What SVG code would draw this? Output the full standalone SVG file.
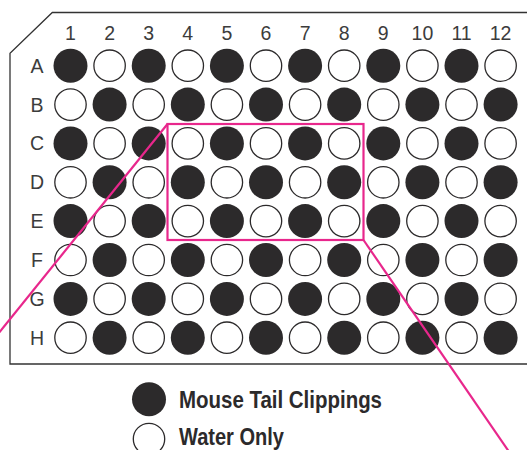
<svg xmlns="http://www.w3.org/2000/svg" xmlns:xlink="http://www.w3.org/1999/xlink" width="527" height="450" viewBox="0 0 527 450">
<style>
.plate{fill:none;stroke:#333;stroke-width:1.3}
.f{fill:#2c2a2b}
.o{fill:#fff;stroke:#2c2a2b;stroke-width:1.3}
.lbl{font-family:"Liberation Sans",Arial,sans-serif;font-size:19.5px;fill:#3c3c3c;text-anchor:middle}
.leg{font-family:"Liberation Sans",Arial,sans-serif;font-size:24px;font-weight:bold;fill:#2c2a2b}
.mg{fill:none;stroke:#e8278c;stroke-width:2.2}
</style>
<defs>
<circle id="fw" r="17" class="f"/>
<circle id="ow" r="15.7" class="o"/>
</defs>
<rect width="527" height="450" fill="#fff"/>
<g id="plate">
<path class="plate" d="M527,12.5 H52.3 L10,53.3 V364 H527"/>
</g>
<g id="col-labels" class="lbl">
<text x="70.5" y="40">1</text><text x="109.6" y="40">2</text><text x="148.7" y="40">3</text><text x="187.8" y="40">4</text><text x="226.9" y="40">5</text><text x="266" y="40">6</text><text x="305.1" y="40">7</text><text x="344.2" y="40">8</text><text x="383.3" y="40">9</text><text x="422.4" y="40">10</text><text x="461.5" y="40">11</text><text x="500.6" y="40">12</text>
</g>
<g id="row-labels" class="lbl">
<text x="37" y="72.7">A</text><text x="37" y="111.6">B</text><text x="37" y="150.4">C</text><text x="37" y="189.3">D</text><text x="37" y="228.1">E</text><text x="37" y="267">F</text><text x="37" y="305.9">G</text><text x="37" y="344.7">H</text>
</g>
<g id="wells">
<g id="row-A" transform="translate(0,65.7)"><use href="#fw" x="70.5"/><use href="#ow" x="109.6"/><use href="#fw" x="148.7"/><use href="#ow" x="187.8"/><use href="#fw" x="226.9"/><use href="#ow" x="266"/><use href="#fw" x="305.1"/><use href="#ow" x="344.2"/><use href="#fw" x="383.3"/><use href="#ow" x="422.4"/><use href="#fw" x="461.5"/><use href="#ow" x="500.6"/></g>
<g id="row-B" transform="translate(0,104.6)"><use href="#ow" x="70.5"/><use href="#fw" x="109.6"/><use href="#ow" x="148.7"/><use href="#fw" x="187.8"/><use href="#ow" x="226.9"/><use href="#fw" x="266"/><use href="#ow" x="305.1"/><use href="#fw" x="344.2"/><use href="#ow" x="383.3"/><use href="#fw" x="422.4"/><use href="#ow" x="461.5"/><use href="#fw" x="500.6"/></g>
<g id="row-C" transform="translate(0,143.4)"><use href="#fw" x="70.5"/><use href="#ow" x="109.6"/><use href="#fw" x="148.7"/><use href="#ow" x="187.8"/><use href="#fw" x="226.9"/><use href="#ow" x="266"/><use href="#fw" x="305.1"/><use href="#ow" x="344.2"/><use href="#fw" x="383.3"/><use href="#ow" x="422.4"/><use href="#fw" x="461.5"/><use href="#ow" x="500.6"/></g>
<g id="row-D" transform="translate(0,182.3)"><use href="#ow" x="70.5"/><use href="#fw" x="109.6"/><use href="#ow" x="148.7"/><use href="#fw" x="187.8"/><use href="#ow" x="226.9"/><use href="#fw" x="266"/><use href="#ow" x="305.1"/><use href="#fw" x="344.2"/><use href="#ow" x="383.3"/><use href="#fw" x="422.4"/><use href="#ow" x="461.5"/><use href="#fw" x="500.6"/></g>
<g id="row-E" transform="translate(0,221.1)"><use href="#fw" x="70.5"/><use href="#ow" x="109.6"/><use href="#fw" x="148.7"/><use href="#ow" x="187.8"/><use href="#fw" x="226.9"/><use href="#ow" x="266"/><use href="#fw" x="305.1"/><use href="#ow" x="344.2"/><use href="#fw" x="383.3"/><use href="#ow" x="422.4"/><use href="#fw" x="461.5"/><use href="#ow" x="500.6"/></g>
<g id="row-F" transform="translate(0,260)"><use href="#ow" x="70.5"/><use href="#fw" x="109.6"/><use href="#ow" x="148.7"/><use href="#fw" x="187.8"/><use href="#ow" x="226.9"/><use href="#fw" x="266"/><use href="#ow" x="305.1"/><use href="#fw" x="344.2"/><use href="#ow" x="383.3"/><use href="#fw" x="422.4"/><use href="#ow" x="461.5"/><use href="#fw" x="500.6"/></g>
<g id="row-G" transform="translate(0,298.9)"><use href="#fw" x="70.5"/><use href="#ow" x="109.6"/><use href="#fw" x="148.7"/><use href="#ow" x="187.8"/><use href="#fw" x="226.9"/><use href="#ow" x="266"/><use href="#fw" x="305.1"/><use href="#ow" x="344.2"/><use href="#fw" x="383.3"/><use href="#ow" x="422.4"/><use href="#fw" x="461.5"/><use href="#ow" x="500.6"/></g>
<g id="row-H" transform="translate(0,337.7)"><use href="#ow" x="70.5"/><use href="#fw" x="109.6"/><use href="#ow" x="148.7"/><use href="#fw" x="187.8"/><use href="#ow" x="226.9"/><use href="#fw" x="266"/><use href="#ow" x="305.1"/><use href="#fw" x="344.2"/><use href="#ow" x="383.3"/><use href="#fw" x="422.4"/><use href="#ow" x="461.5"/><use href="#fw" x="500.6"/></g>
</g>
<g id="highlight">
<rect class="mg" x="167.5" y="124" width="196" height="116"/>
</g>
<g id="connectors">
<line class="mg" x1="167.5" y1="124" x2="-2" y2="334"/>
<line class="mg" x1="363.5" y1="240" x2="508.5" y2="451"/>
</g>
<g id="legend">
<g id="legend-mouse"><use href="#fw" x="149" y="399.3"/><text class="leg" x="179" y="408.3" textLength="203" lengthAdjust="spacingAndGlyphs">Mouse Tail Clippings</text></g>
<g id="legend-water"><use href="#ow" x="149" y="439"/><text class="leg" x="179" y="445" textLength="105" lengthAdjust="spacingAndGlyphs">Water Only</text></g>
</g>
</svg>
